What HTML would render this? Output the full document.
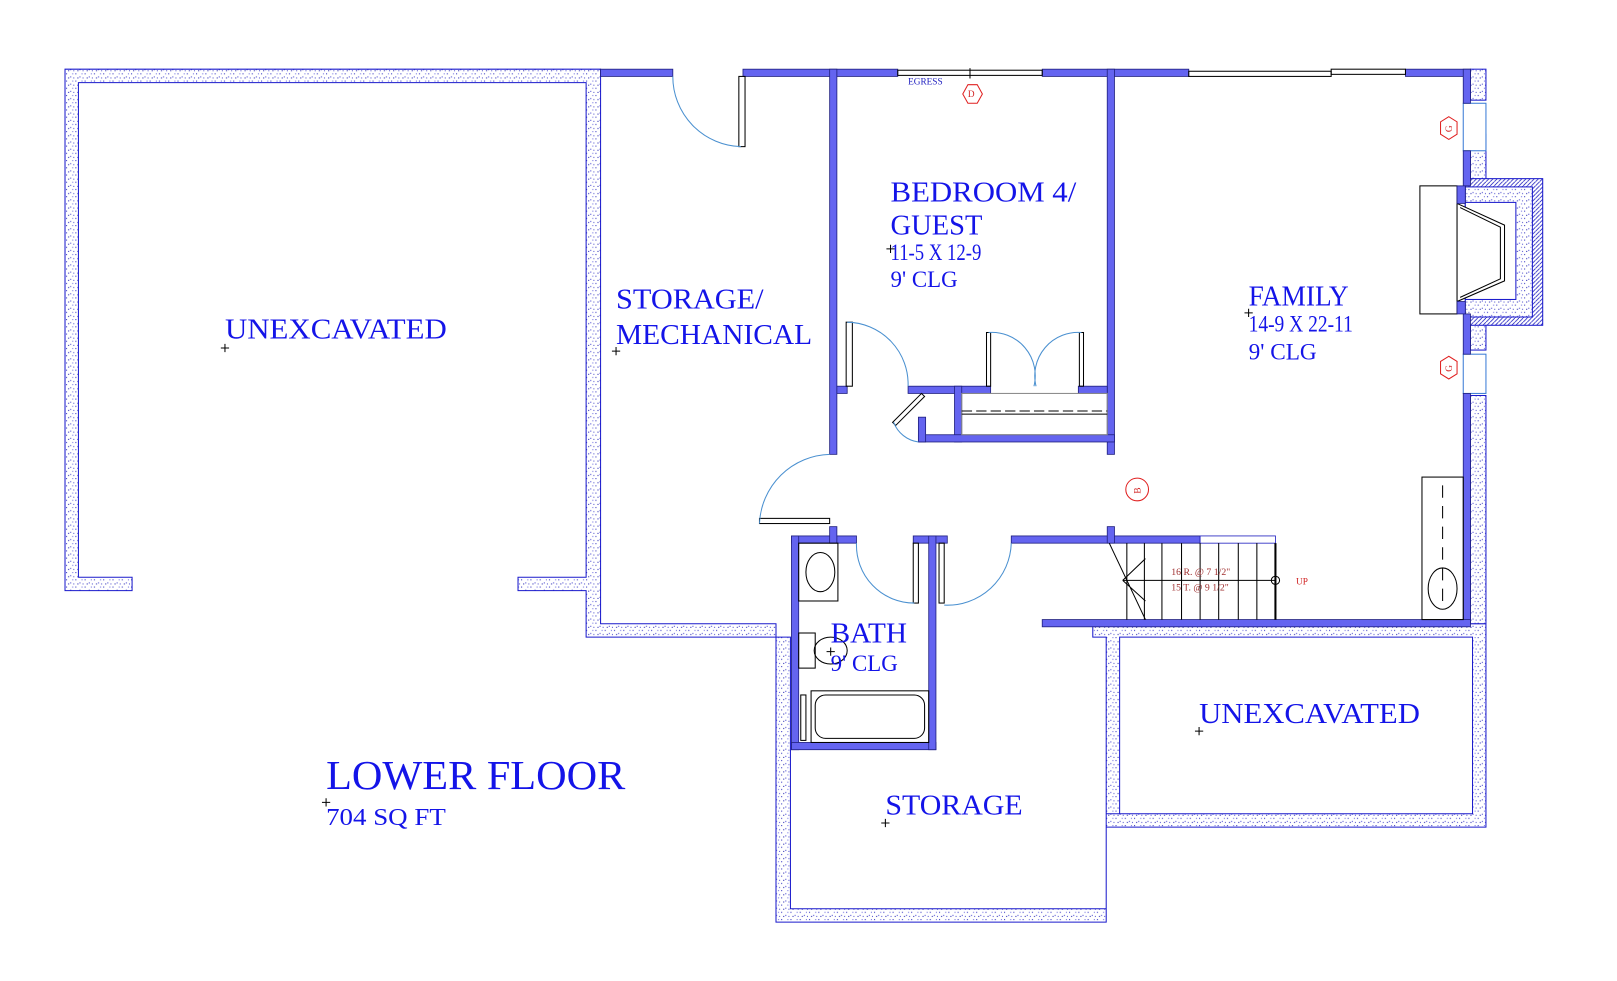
<!DOCTYPE html>
<html><head><meta charset="utf-8"><style>
html,body{margin:0;padding:0;background:#fff;}
svg{display:block;}
text{font-family:"Liberation Serif",serif;fill:#1414e8;}
</style></head><body>
<svg width="1617" height="981" viewBox="0 0 1567 950" preserveAspectRatio="none" xmlns="http://www.w3.org/2000/svg">
<defs>
<pattern id="dots" width="9" height="7" patternUnits="userSpaceOnUse">
<rect width="9" height="7" fill="#fff"/>
<rect x="1" y="1" width="1" height="1" fill="#3030c0"/>
<rect x="5" y="4" width="1" height="1" fill="#4040d0"/>
<rect x="7" y="1" width="1" height="1" fill="#7070e0"/>
<rect x="3" y="5" width="1" height="1" fill="#2020b0"/>
<rect x="8" y="5" width="1" height="1" fill="#5050d0"/>
</pattern>
<pattern id="hatch" width="4" height="4" patternUnits="userSpaceOnUse">
<rect width="4" height="4" fill="#fff"/><path d="M0 4L4 0" stroke="#2020c0" stroke-width="0.8"/>
</pattern>
</defs>
<g fill="url(#dots)" stroke="#1a1acc" stroke-width="1">
<path d="M63 67H582V604H752V893H1072V617H1059V604H1440V801H1072V788H1427V617H1085V788H1072V880H766V617H568V572H502V559H568V80H76V559H128V572H63Z"/>
<rect x="1425" y="67" width="15" height="30"/>
<rect x="1425" y="130" width="15" height="45"/>
<rect x="1425" y="303" width="15" height="36"/>
<rect x="1425" y="383" width="15" height="221"/>
</g>
<rect x="1420" y="173" width="75" height="142" fill="url(#hatch)" stroke="#1a1acc"/>
<rect x="1420" y="181" width="65" height="126" fill="url(#dots)" stroke="#1a1acc"/>
<rect x="1420" y="196" width="49" height="94" fill="#fff" stroke="#1a1acc"/>
<rect x="1376" y="180" width="36" height="124" fill="#fff" stroke="#000"/>
<path d="M1412 197L1458 218V272L1412 292Z" fill="#fff" stroke="#000"/>
<path d="M1415 201L1454 220V270L1415 288" fill="none" stroke="#000"/>
<rect x="1418" y="100" width="22" height="46" fill="#fff" stroke="#3a7bd5"/>
<rect x="1418" y="343" width="22" height="38" fill="#fff" stroke="#3a7bd5"/>
<g fill="#6464f0" stroke="#202080" stroke-width="0.8">
<rect x="582" y="67" width="70" height="7"/>
<rect x="720" y="67" width="150" height="7"/>
<rect x="1010" y="67" width="142" height="7"/>
<rect x="1362" y="67" width="63" height="7"/>
<rect x="1418" y="67" width="7" height="33"/>
<rect x="1418" y="146" width="7" height="34"/>
<rect x="1412" y="180" width="8" height="17"/>
<rect x="1412" y="292" width="8" height="12"/>
<rect x="1418" y="304" width="7" height="39"/>
<rect x="1418" y="381" width="7" height="223"/>
<rect x="804" y="67" width="7" height="373"/>
<rect x="1073" y="67" width="7" height="373"/>
<rect x="811" y="374" width="10" height="7"/>
<rect x="880" y="374" width="80" height="7"/>
<rect x="1045" y="374" width="28" height="7"/>
<rect x="925" y="374" width="7" height="54"/>
<rect x="890" y="421" width="190" height="7"/>
<rect x="890" y="404" width="7" height="24"/>
<rect x="767" y="519" width="63" height="7"/>
<rect x="804" y="510" width="7" height="16"/>
<rect x="885" y="519" width="33" height="7"/>
<rect x="980" y="519" width="183" height="7"/>
<rect x="1073" y="510" width="7" height="16"/>
<rect x="767" y="519" width="7" height="207"/>
<rect x="767" y="719" width="140" height="7"/>
<rect x="900" y="519" width="7" height="207"/>
<rect x="1010" y="600" width="415" height="7"/>
</g>
<rect x="1163" y="519" width="73" height="7" fill="#fff" stroke="#2020c0" stroke-width="0.8"/>
<g fill="none" stroke="#000" stroke-width="1">
<rect x="870" y="68" width="140" height="5"/>
<rect x="1152" y="69" width="138" height="5"/>
<rect x="1290" y="67" width="72" height="5"/>
<line x1="940" y1="66" x2="940" y2="76"/>
<rect x="716" y="74" width="6" height="68"/>
<rect x="820" y="312" width="6" height="62"/>
<rect x="956" y="322" width="4" height="52"/>
<rect x="1046" y="322" width="4" height="52"/>
<rect x="736" y="502" width="68" height="5"/>
<rect x="885" y="526" width="5" height="58"/>
<rect x="910" y="526" width="5" height="58"/>
<path d="M893 381L865 409L868 412L896 384Z"/>
<rect x="932" y="381" width="141" height="40" stroke="#888"/>
<line x1="932" y1="398" x2="1073" y2="398" stroke-dasharray="10 4"/>
<line x1="932" y1="401" x2="1073" y2="401"/>
<rect x="774" y="526" width="38" height="56"/>
<ellipse cx="795" cy="554" rx="14" ry="19"/>
<rect x="774" y="613" width="16" height="34"/>
<ellipse cx="805" cy="630" rx="16" ry="13"/>
<rect x="786" y="669" width="114" height="50"/>
<rect x="790" y="673" width="106" height="42" rx="10"/>
<rect x="776" y="673" width="5" height="44"/>
<path d="M1075 526L1110 600M1088 562L1110 541M1088 562L1110 582M1088 562H1236"/>
<path d="M1092 526V600M1109 526V600M1126 526V600M1145 526V600M1163 526V600M1181 526V600M1200 526V600M1218 526V600"/>
<path d="M1236 526V600" stroke-width="2"/>
<circle cx="1236" cy="562" r="4"/>
<rect x="1378" y="462" width="40" height="138"/>
<path d="M1398 470V590" stroke-dasharray="12 8"/>
<ellipse cx="1398" cy="570" rx="14" ry="20"/>
</g>
<g fill="none" stroke="#4a90d0" stroke-width="1">
<path d="M652 74A68 68 0 0 0 718 142"/>
<path d="M821 312A60 60 0 0 1 880 374"/>
<path d="M958 322A42 42 0 0 1 1002 374"/>
<path d="M1048 322A42 42 0 0 0 1004 374"/>
<path d="M804 440A70 70 0 0 0 736 507"/>
<path d="M830 526A56 56 0 0 0 886 584"/>
<path d="M980 526A62 62 0 0 1 915 586"/>
<path d="M866 409A30 30 0 0 0 890 428"/>
</g>
<g fill="none" stroke="#e02020">
<path d="M933 91L938 82H947L952 91L947 100H938Z"/>
<path d="M1404 113L1396 118V130L1404 135L1412 130V118Z"/>
<path d="M1404 345L1396 350V362L1404 367L1412 362V350Z"/>
<circle cx="1102" cy="474" r="11"/>
</g>
<g font-family="Liberation Sans,sans-serif" font-size="9">
<text x="938" y="94" style="fill:#d02020">D</text>
<text x="1400" y="127" style="fill:#d02020" transform="rotate(-90 1404 124)">G</text>
<text x="1400" y="359" style="fill:#d02020" transform="rotate(-90 1404 356)">G</text>
<text x="1098" y="477" style="fill:#d02020" transform="rotate(-90 1102 474)">B</text>
<text x="1135" y="557" style="fill:#a03030" font-size="9.5">16 R. @ 7 1/2"</text>
<text x="1135" y="572" style="fill:#a03030" font-size="9.5">15 T. @ 9 1/2"</text>
<text x="1256" y="566" style="fill:#d02020">UP</text>
<text x="880" y="82" style="fill:#2020c0">EGRESS</text>
</g>
<g stroke="#000" stroke-width="1">
<path d="M214 337h8M218 333v8M593 340h8M597 336v8M859 241h8M863 237v8M1206 303h8M1210 299v8M801 631h8M805 627v8M1158 708h8M1162 704v8M854 797h8M858 793v8M312 777h8M316 773v8"/>
</g>
<g>
<text x="218" y="328" font-size="28" textLength="215" lengthAdjust="spacingAndGlyphs">UNEXCAVATED</text>
<text x="597" y="299" font-size="28" textLength="143" lengthAdjust="spacingAndGlyphs">STORAGE/</text>
<text x="597" y="333" font-size="28" textLength="190" lengthAdjust="spacingAndGlyphs">MECHANICAL</text>
<text x="863" y="195" font-size="28" textLength="180" lengthAdjust="spacingAndGlyphs">BEDROOM 4/</text>
<text x="863" y="227" font-size="28" textLength="89" lengthAdjust="spacingAndGlyphs">GUEST</text>
<text x="863" y="252" font-size="22" textLength="88" lengthAdjust="spacingAndGlyphs">11-5 X 12-9</text>
<text x="863" y="278" font-size="22" textLength="65" lengthAdjust="spacingAndGlyphs">9' CLG</text>
<text x="1210" y="296" font-size="28" textLength="97" lengthAdjust="spacingAndGlyphs">FAMILY</text>
<text x="1210" y="321" font-size="22" textLength="101" lengthAdjust="spacingAndGlyphs">14-9 X 22-11</text>
<text x="1210" y="348" font-size="22" textLength="66" lengthAdjust="spacingAndGlyphs">9' CLG</text>
<text x="805" y="622" font-size="28" textLength="74" lengthAdjust="spacingAndGlyphs">BATH</text>
<text x="805" y="650" font-size="22" textLength="65" lengthAdjust="spacingAndGlyphs">9' CLG</text>
<text x="1162" y="700" font-size="28" textLength="214" lengthAdjust="spacingAndGlyphs">UNEXCAVATED</text>
<text x="858" y="789" font-size="28" textLength="133" lengthAdjust="spacingAndGlyphs">STORAGE</text>
<text x="316" y="764" font-size="40" textLength="290" lengthAdjust="spacingAndGlyphs">LOWER FLOOR</text>
<text x="316" y="799" font-size="24" textLength="116" lengthAdjust="spacingAndGlyphs">704 SQ FT</text>
</g>
</svg>
</body></html>
